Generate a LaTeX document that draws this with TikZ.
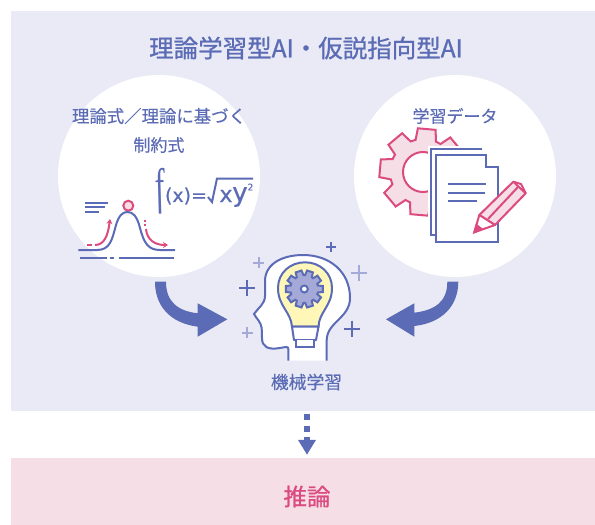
\documentclass[tikz,border=0pt]{standalone}
\usepackage{fontspec}
\usetikzlibrary{arrows.meta}
\newfontfamily\cjk[FakeBold=0.25]{Noto Sans CJK JP}
\newfontfamily\cjkhead[FakeBold=1]{Noto Sans CJK JP}
\newfontfamily\mathlike[FakeBold=0.6]{DejaVu Sans}
\newfontfamily\serifit{Liberation Serif}[Ligatures=TeX]
\definecolor{panel}{HTML}{E9EAF5}
\definecolor{blue}{HTML}{5B6BB5}
\definecolor{softblue}{HTML}{A5A9D8}
\definecolor{rose}{HTML}{DB4B7F}
\definecolor{softrose}{HTML}{F5DEE5}
\definecolor{bulb}{HTML}{FFF7B8}
% center, inner radius, outer radius, angle step, offset
\newcommand{\gearshape}[6][]{%
  \draw[#1,shift={#2}] ({#6-#5*.4}:#3)
    \foreach \a in {0,#5,...,359} {
      -- ({#6+\a-#5*.4}:#3) -- ({#6+\a-#5*.26}:#4) -- ({#6+\a+#5*.26}:#4) -- ({#6+\a+#5*.4}:#3)
    } -- cycle;}
\begin{document}
\begin{tikzpicture}[x=1pt,y=-1pt,
    box/.style={inner sep=0pt,minimum height=#1},
    title/.style={font=\cjkhead\fontsize{#1}{#1}\selectfont,text=blue},
    label/.style={font=\cjk\fontsize{#1}{#1}\selectfont,text=blue},
    formula/.style={font=\mathlike\fontsize{#1}{#1}\selectfont,text=blue,inner sep=0pt},
    bluepen/.style={draw=blue,line width=2pt},
    rosepen/.style={draw=rose,line width=2pt},
    bigarrow/.style={fill=blue,draw=none},
    plusdark/.style={draw=blue,line width=2pt},
    pluslight/.style={draw=softblue,line width=2pt}]
  \useasboundingbox (0,0) rectangle (595,525);
  % Define areas
  \node[box=400pt,fill=panel,minimum width=584pt] (panel) at (303,211) {};
  \node[box=67pt,fill=softrose,minimum width=584pt] (infer) at (303,491.5) {};
  \node[circle,fill=white,inner sep=0pt,minimum size=202pt] (theory) at (159,176) {};
  \node[circle,fill=white,inner sep=0pt,minimum size=202pt] (data) at (455,176) {};
  % Labels
  \node[title=24.5] (heading) at (306,48) {理論学習型AI・仮説指向型AI};
  \node[label=17.4] (theorytop) at (159,116) {理論式／理論に基づく};
  \node[label=17] (theorylow) at (159,145) {制約式};
  \node[label=17] (datalabel) at (455,116) {学習データ};
  \node[label=17.8] (mllabel) at (306.5,382) {機械学習};
  \node[title=23.5,text=rose] (inferlabel) at (307,496.5) {推論};
  % Formula
  \node[formula=50,xscale=.62,xslant=-.22] (fn) at (160,191) {\serifit\itshape f};
  \node[formula=19] (args) at (186,196) {(x)=};
  \draw[bluepen] (208,197) -- (212,202) -- (217,178.5) -- (253,178.5);
  \node[formula=22] (varx) at (226,196) {x};
  \node[formula=26] (vary) at (240,197) {y};
  \node[formula=9] (power) at (250.5,187) {2};
  % Bell curve
  \node[circle,draw=rose,fill=softrose,line width=2pt,inner sep=0pt,minimum size=10pt] (peak) at (128.3,205.7) {};
  \draw[bluepen] (78.3,250) -- (97,250) .. controls (110,250) and (112,240) .. (116,225)
    .. controls (119,215) and (123,212) .. (127.3,212) .. controls (133,212) and (137,216) .. (140,228)
    .. controls (144,243) and (148,250) .. (160,250) -- (175,250);
  \draw[bluepen] (80,257.7) -- (106.5,257.7) (110,257.7) -- (114,257.7) (118.5,257.7) -- (174,257.7);
  \draw[bluepen] (85,203.3) -- (108,203.3) (85,207.3) -- (105,207.3) (85,212.3) -- (99,212.3);
  \draw[rosepen] (87.3,245) -- (91.7,245);
  \draw[rosepen,-{Stealth[length=5pt,width=6pt]}] (95,245) .. controls (104,245) and (108,236) .. (110,219);
  \draw[rosepen] (145,220) -- (145,221.5) (145,224) -- (145,226);
  \draw[rosepen,-{Stealth[length=5pt,width=6pt]}] (146,229) .. controls (147,240) and (155,245) .. (168,245);
  % Large gear
  \gearshape[rosepen,fill=softrose]{(423,172)}{33}{44}{45}{5}
  \node[circle,draw=rose,fill=white,line width=2pt,inner sep=0pt,minimum size=40pt] (gearhole) at (423,172) {};
  % Sheets
  \fill[white] (428,146) rectangle (484,237);
  \draw[bluepen] (481.7,149) -- (430.7,149) -- (430.7,235) -- (436,235);
  \draw[bluepen,fill=white] (436,155) -- (486,155) -- (486,167) -- (498,167) -- (498,241.7) -- (436,241.7) -- cycle;
  \draw[bluepen] (448,184) -- (486,184) (448,192.5) -- (485,192.5) (448,201) -- (477,201);
  % Pencil
  \draw[rosepen,fill=softrose,line join=round] (479.3,215) -- (513.3,181.7) -- (525.7,193.3) -- (495,225) -- cycle;
  \draw[rosepen,fill=white,line join=round] (474.3,232.3) -- (479.3,215) -- (495,225) -- cycle;
  \draw[rosepen,fill=rose] (474.3,232.3) -- (476.5,225) -- (481.5,229) -- cycle;
  \draw[rosepen] (488,219) -- (518,187) (513.3,181.7) -- (521,184) -- (525.7,193.3);
  % Head and bulb
  \fill[white] (288.3,360.7) -- (288.3,346.7) -- (270,348.3) -- (262.7,343.3) -- (261.7,326.7) -- (254,314)
    -- (265,298.3) -- (265,280) .. controls (266,262) and (285,255) .. (303,255)
    .. controls (330,255) and (350,272) .. (350,298) .. controls (350,318) and (327,322) .. (326.7,340) -- (326.7,360.7) -- cycle;
  \draw[bluepen] (288.3,360.7) -- (288.3,349) .. controls (288,346) and (286,347) .. (280,348)
    .. controls (268,350) and (262,347) .. (262,338) -- (261.7,328) .. controls (261,322) and (256,318) .. (254,314)
    .. controls (258,308) and (265,304) .. (265,296) -- (265,280) .. controls (266,262) and (285,255) .. (303,255)
    .. controls (330,255) and (350,272) .. (350,298) .. controls (350,318) and (327,322) .. (326.7,340) -- (326.7,360.7);
  \draw[bluepen,fill=bulb] (292,326.7) .. controls (291,312) and (278,306) .. (278,288)
    .. controls (278,273) and (290,262.3) .. (305,262.3) .. controls (320,262.3) and (332,273) .. (332,288)
    .. controls (332,306) and (319,312) .. (318.5,326.7) -- cycle;
  \draw[bluepen,fill=white,line join=round] (292,326.7) -- (318.5,326.7) -- (316,340) -- (294,340) -- cycle;
  \draw[bluepen,fill=white] (295.7,340) -- (295.7,346.7) -- (314,346.7) -- (314,340);
  \gearshape[bluepen,fill=softblue]{(304.3,289)}{14}{18.7}{36}{0}
  \node[circle,draw=blue,fill=white,line width=2pt,inner sep=0pt,minimum size=7pt] (hub) at (304.3,289) {};
  % Plus signs
  \foreach \px/\py/\ph/\pstyle in {331.3/247.3/5/plusdark,247.3/288.3/8/plusdark,352/328.7/8/plusdark,
      258.7/262.7/5.5/pluslight,359/272.7/8/pluslight,247.3/332.7/5.5/pluslight}
    \draw[\pstyle] (\px-\ph,\py) -- (\px+\ph,\py) (\px,\py-\ph) -- (\px,\py+\ph);
  % Transitions
  \fill[bigarrow] (155,281.7) -- (166,281.7) .. controls (166,302) and (178,311) .. (197.7,313.3)
    -- (197.7,303.3) -- (227.3,319.3) -- (197.7,336.7) -- (197.7,326.7) .. controls (170,323) and (155,306) .. (155,281.7) -- cycle;
  \fill[bigarrow] (458.3,281.7) -- (447.3,281.7) .. controls (447.3,302) and (435,310) .. (414.3,312.7)
    -- (414.3,303.3) -- (386,319.3) -- (414.3,336.7) -- (414.3,326) .. controls (442,323) and (458.3,306) .. (458.3,281.7) -- cycle;
  \coordinate (flowtop) at ([xshift=4pt,yshift=-3pt]panel.south);
  \coordinate (flowend) at ([xshift=4pt,yshift=3pt]infer.north);
  \draw[draw=blue,line width=6pt,dash pattern=on 6pt off 5.3pt,-{Triangle[width=17pt,length=15pt]}] (flowtop) -- (flowend);
\end{tikzpicture}
\end{document}
